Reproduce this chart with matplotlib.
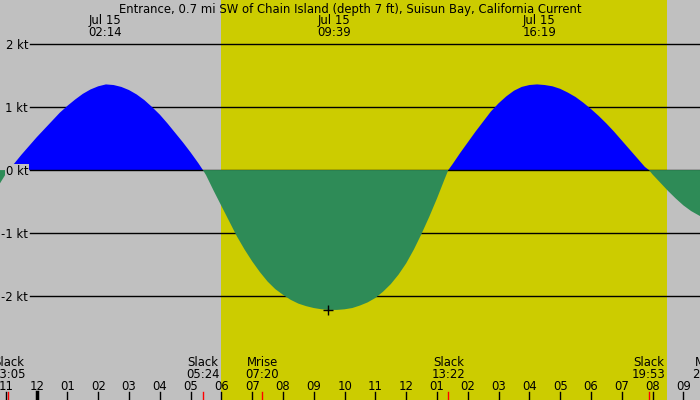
import matplotlib
matplotlib.use("Agg")
import matplotlib.pyplot as plt
import matplotlib.transforms as mtrans
import numpy as np

# time in hours from midnight Jul 15, current in knots
hours = [-1.19, -1.0, -0.917, -0.75, -0.5, -0.25, 0.0, 0.25, 0.5, 0.75, 1.0, 1.25,
         1.5, 1.75, 2.0, 2.25, 2.5, 2.75, 3.0, 3.25, 3.5, 3.75, 4.0, 4.25, 4.5, 4.75,
         5.0, 5.25, 5.4, 5.5, 5.75, 6.0, 6.25, 6.5, 6.75, 7.0, 7.25, 7.5, 7.75, 8.0,
         8.25, 8.5, 8.75, 9.0, 9.25, 9.5, 9.75, 10.0, 10.25, 10.5, 10.75, 11.0, 11.25,
         11.5, 11.75, 12.0, 12.25, 12.5, 12.75, 13.0, 13.25, 13.367, 13.5, 13.75, 14.0,
         14.25, 14.5, 14.75, 15.0, 15.25, 15.5, 15.75, 16.0, 16.25, 16.5, 16.75, 17.0,
         17.25, 17.5, 17.75, 18.0, 18.25, 18.5, 18.75, 19.0, 19.25, 19.5, 19.75, 19.883,
         20.0, 20.25, 20.5, 20.75, 21.0, 21.25, 21.54]
knots = [-0.21, -0.06, 0.0, 0.09, 0.24, 0.38, 0.52, 0.65, 0.78, 0.91, 1.02, 1.12,
         1.21, 1.28, 1.33, 1.36, 1.35, 1.32, 1.27, 1.20, 1.11, 1.0, 0.88, 0.74, 0.59, 0.44,
         0.28, 0.11, 0.0, -0.08, -0.33, -0.57, -0.81, -1.05, -1.26, -1.45, -1.62, -1.77,
         -1.89, -1.98, -2.06, -2.12, -2.16, -2.19, -2.21, -2.22, -2.22, -2.21, -2.19,
         -2.15, -2.10, -2.03, -1.93, -1.81, -1.66, -1.48, -1.26, -1.01, -0.74, -0.45,
         -0.14, 0.0, 0.09, 0.27, 0.44, 0.61, 0.77, 0.93, 1.06, 1.17, 1.26, 1.32, 1.35,
         1.36, 1.35, 1.33, 1.29, 1.23, 1.16, 1.07, 0.97, 0.86, 0.74, 0.61, 0.47, 0.33,
         0.19, 0.05, 0.0, -0.07, -0.20, -0.33, -0.45, -0.56, -0.65, -0.73]

title = "Entrance, 0.7 mi SW of Chain Island (depth 7 ft), Suisun Bay, California Current"
peak_times = [2.233, 9.65, 16.317]
peak_labels = ["02:14", "09:39", "16:19"]
max_ebb = (9.45, -2.22)

event_times = [-0.917, 5.4, 7.333, 13.367, 19.883, 21.833]
event_names = ["Slack", "Slack", "Mrise", "Slack", "Slack", "Mset"]
event_labels = ["23:05", "05:24", "07:20", "13:22", "19:53", "21:50"]

sunrise, sunset = 5.98, 20.47
hour_ticks = list(range(-1, 22))
kt_levels = [2, 1, 0, -1, -2]

gray = "#c0c0c0"
yellow = "#cccc00"
flood = "#0000ff"
ebb = "#2e8b57"
fs = 8.4
lsp = 0.94

t = np.array(hours)
v = np.array(knots)

fig = plt.figure(figsize=(7, 4), dpi=100)
fig.patch.set_facecolor(gray)
ax = fig.add_axes([0, 0, 1, 1])
ax.set_facecolor(gray)
ax.set_xlim(-1.19, 21.54)
ax.set_ylim(-3.65, 2.70)
ax.axis("off")

ax.axvspan(sunrise, sunset, color=yellow, lw=0, zorder=0)

xdata_yaxes = mtrans.blended_transform_factory(ax.transData, ax.transAxes)
xaxes_ydata = mtrans.blended_transform_factory(ax.transAxes, ax.transData)

# grid lines
for k in kt_levels:
    z = 2.5 if k == 0 else 0.5
    ax.plot([30 / 700, 1], [k, k], transform=xaxes_ydata, color="black", lw=1.0, zorder=z)
    lab = ax.text(28 / 700, k - 0.071, f"{k} kt", transform=xaxes_ydata, ha="right",
                  va="baseline", fontsize=fs, zorder=5)
    if k == 0:
        lab.set_bbox(dict(facecolor=gray, edgecolor="none", pad=0.5))

ax.fill_between(t, v, 0, where=v >= 0, interpolate=True, color=flood, lw=0, zorder=2)
ax.fill_between(t, v, 0, where=v <= 0, interpolate=True, color=ebb, lw=0, zorder=3)
ax.plot([max_ebb[0]], [max_ebb[1]], marker="+", color="black", ms=7, mew=1.0, zorder=4)

# title and peak labels
ax.text(0.5, 1 - 13 / 400, title, transform=ax.transAxes, ha="center", va="baseline",
        fontsize=fs)
for pt, pl in zip(peak_times, peak_labels):
    ax.text(pt, 1 - 36 / 400, "Jul 15\n" + pl, transform=xdata_yaxes, ha="center",
            va="baseline", fontsize=fs, multialignment="center", linespacing=lsp)

# events along the bottom
for et, en, el in zip(event_times, event_names, event_labels):
    ax.text(et, 1 - 378 / 400, en + "\n" + el, transform=xdata_yaxes, ha="center",
            va="baseline", fontsize=fs, multialignment="center", linespacing=lsp,
            zorder=5)
    ax.plot([et, et], [0, 8 / 400], transform=xdata_yaxes, color="red", lw=1.0, zorder=5)

# hour ticks
for h in hour_ticks:
    lbl = "%02d" % (h % 12 if h % 12 else 12)
    ax.text(h, 1 - 390 / 400, lbl, transform=xdata_yaxes, ha="center", va="baseline",
            fontsize=fs, zorder=5)
    w = 2.5 if h % 24 == 0 else 1.0
    ax.plot([h, h], [0, 8 / 400], transform=xdata_yaxes, color="black", lw=w, zorder=5)

fig.savefig("out.png", dpi=100, facecolor=gray)
